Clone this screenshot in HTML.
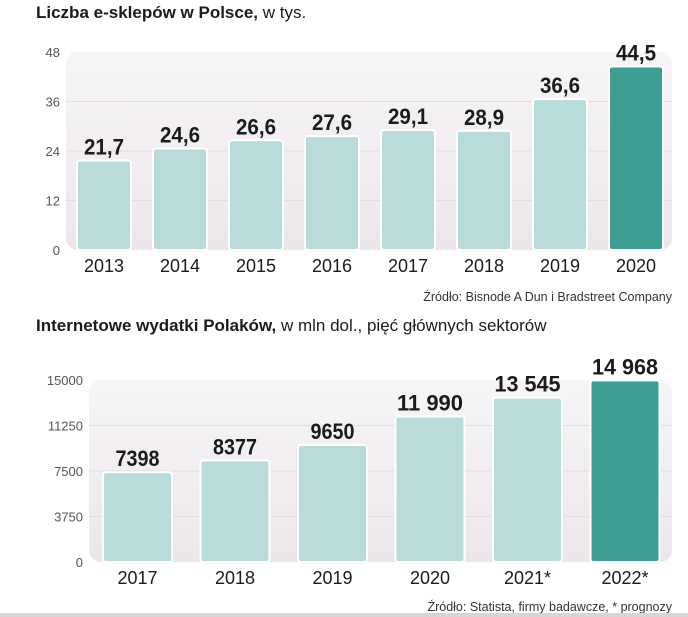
<!DOCTYPE html>
<html><head><meta charset="utf-8"><style>
body{margin:0;background:#fff;width:688px;height:617px;overflow:hidden;font-family:"Liberation Sans",sans-serif}
svg{display:block}
</style></head><body>
<svg id="s" width="688" height="617">
<defs><linearGradient id="bg" x1="0" y1="0" x2="0" y2="1"><stop offset="0" stop-color="#f7f5f7"/><stop offset="1" stop-color="#ebe6ea"/></linearGradient></defs>
<text x="36" y="18" font-size="17" fill="#1b1b1b"><tspan font-weight="bold">Liczba e-sklepów w Polsce,</tspan> w tys.</text>
<text x="672" y="301" font-size="12.5" fill="#333" text-anchor="end">Źródło: Bisnode A Dun i Bradstreet Company</text>
<text x="36" y="331" font-size="17" fill="#1b1b1b"><tspan font-weight="bold">Internetowe wydatki Polaków,</tspan> w mln dol., pięć głównych sektorów</text>
<text x="672" y="611" font-size="12.5" fill="#333" text-anchor="end">Źródło: Statista, firmy badawcze, * prognozy</text>
<rect x="0" y="613" width="688" height="4" fill="#d8d6d4"/>
</svg>
<script>
const cats1=["2013","2014","2015","2016","2017","2018","2019","2020"];
const vals1=[21.7,24.6,26.6,27.6,29.1,28.9,36.6,44.5];
const lbls1=["21,7","24,6","26,6","27,6","29,1","28,9","36,6","44,5"];
const ticks1=[0,12,24,36,48];
const cats2=["2017","2018","2019","2020","2021*","2022*"];
const vals2=[7398,8377,9650,11990,13545,14968];
const lbls2=["7398","8377","9650","11 990","13 545","14 968"];
const ticks2=[0,3750,7500,11250,15000];
const s=document.getElementById('s');
const NS='http://www.w3.org/2000/svg';
function mk(t,a,p){const e=document.createElementNS(NS,t);for(const k in a)e.setAttribute(k,a[k]);(p||s).appendChild(e);return e;}
function chart(o){
  const y=v=>o.y0-(v/o.max)*(o.y0-o.ytop);
  const x=i=>o.c0+i*o.step;
  const bg=mk('rect',{x:o.bx,y:o.ytop,width:o.bw,height:o.y0-o.ytop,rx:12,fill:'url(#bg)'});
  
  
  o.ticks.forEach(t=>{
    if(t>0&&t<o.max){const g=mk('line',{x1:o.bx,x2:o.bx+o.bw,y1:y(t),y2:y(t),stroke:'#e3dde2','stroke-width':1});
    
    }
    const tl=mk('text',{x:o.tx,y:y(t)+5,'font-size':13,fill:'#555','text-anchor':'end'});
    tl.textContent=String(t);
    
    
  });
  o.vals.forEach((v,i)=>{
    const last=i===o.vals.length-1;
    const b=mk('rect',{x:x(i)-o.w/2,y:y(v),width:o.w,height:o.y0-y(v),rx:3,fill:last?'#3f9e92':'#b9dbd9',stroke:'#fff','stroke-width':2});
    
    
    const l=mk('text',{x:x(i),y:y(v)-6,'font-size':22,'font-weight':'bold',fill:'#1b1b1b','text-anchor':'middle',textLength:o.lw(o.lbls[i]),lengthAdjust:'spacingAndGlyphs'});
    l.textContent=o.lbls[i];
    
    
    const c=mk('text',{x:x(i),y:o.y0+22,'font-size':18,fill:'#1b1b1b','text-anchor':'middle'});
    c.textContent=o.cats[i];
    
    
  });
}
chart({id:'chart1',cats:cats1,vals:vals1,lbls:lbls1,ticks:ticks1,max:48,y0:250,ytop:52,bx:66,bw:606,tx:60,c0:104,step:76,w:54,lw:s=>s.length*10});
chart({id:'chart2',cats:cats2,vals:vals2,lbls:lbls2,ticks:ticks2,max:15000,y0:562,ytop:380,bx:89,bw:583,tx:83,c0:137.5,step:97.5,w:69,lw:s=>s.length*11});
</script>
</body></html>
